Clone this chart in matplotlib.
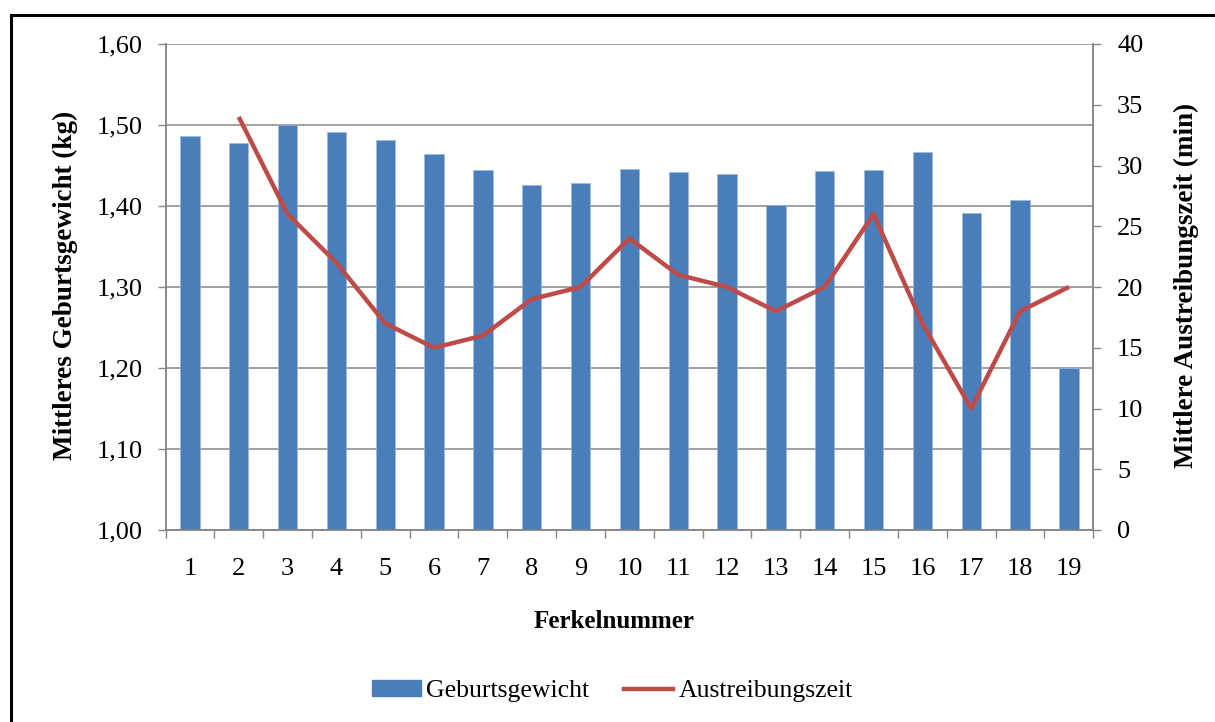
import matplotlib
matplotlib.use("Agg")
import matplotlib.pyplot as plt
import numpy as np
from matplotlib.patches import Rectangle, Patch
from matplotlib.lines import Line2D

plt.rcParams['font.family'] = ['Liberation Serif', 'DejaVu Serif']

ferkel = list(range(1, 20))
geburtsgewicht = [1.486, 1.478, 1.500, 1.491, 1.481, 1.464, 1.445, 1.426, 1.429, 1.446,
                  1.442, 1.440, 1.401, 1.443, 1.445, 1.467, 1.391, 1.407, 1.200]
austreibung_x = list(range(2, 20))
austreibungszeit = [34, 26, 22, 17, 15, 16, 19, 20, 24, 21, 20, 18, 20, 26, 17, 10, 18, 20]
left_ticks = [1.00, 1.10, 1.20, 1.30, 1.40, 1.50, 1.60]
right_ticks = [0, 5, 10, 15, 20, 25, 30, 35, 40]

bar_color = '#4A7EBB'
line_color = '#BE4B48'
grid_color = '#868686'

fig = plt.figure(figsize=(12.15, 7.22), dpi=100)
W, H = 1215, 722
L, R, T, B = 165.5, 1093.3, 44, 530
ax = fig.add_axes([L / W, 1 - B / H, (R - L) / W, (B - T) / H])
ax2 = ax.twinx()

# outer frame
fig.patches.append(Rectangle((11 / W, -0.05), 1.2, 1 - 15 / H + 0.05, transform=fig.transFigure,
                             fill=False, edgecolor='black', linewidth=2.2))

ax.bar(ferkel, geburtsgewicht, width=0.395, color=bar_color, edgecolor='#9DB9DE',
       linewidth=0.5, zorder=3)
ax.set_ylim(1.0, 1.6)
ax.set_xlim(0.5, 19.5)
ax.set_yticks(left_ticks)
ax.set_yticklabels([f"{v:.2f}".replace('.', ',') for v in left_ticks])
ax.yaxis.grid(True, color=grid_color, linewidth=1.1, zorder=0)
ax.set_axisbelow(True)

ax.set_xticks(ferkel)
ax.set_xticklabels([str(i) for i in ferkel])
ax.set_xticks(np.arange(0.5, 20.0, 1.0), minor=True)
ax.tick_params(axis='x', which='major', length=0, pad=20, labelsize=19)
ax.tick_params(axis='x', which='minor', length=5.8, width=1, color=grid_color, direction='out')
ax.tick_params(axis='y', length=5.8, width=1, color=grid_color, pad=10.8, labelsize=19)

for a in (ax, ax2):
    a.spines['top'].set_visible(False)
    for s in ['left', 'bottom', 'right']:
        a.spines[s].set_color(grid_color)
        a.spines[s].set_linewidth(1.1)

ax2.plot(austreibung_x, austreibungszeit, color=line_color, linewidth=3.2, zorder=4,
         solid_joinstyle='round', solid_capstyle='butt')
ax2.set_ylim(0, 40)
ax2.set_yticks(right_ticks)
ax2.tick_params(axis='y', length=5.8, width=1, color=grid_color, pad=11.3, labelsize=19)

fig.text(65 / W, 1 - 285.5 / H, 'Mittleres Geburtsgewicht (kg)', rotation=90, ha='center',
         va='center', fontsize=19.5, fontweight='bold')
fig.text(1186 / W, 1 - 285 / H, 'Mittlere Austreibungszeit (min)', rotation=90, ha='center',
         va='center', fontsize=19.5, fontweight='bold')
fig.text(614 / W, 1 - 621 / H, 'Ferkelnummer', ha='center', va='center',
         fontsize=18, fontweight='bold')

handles = [Patch(facecolor=bar_color, edgecolor=bar_color),
           Line2D([0], [0], color=line_color, linewidth=3.2)]
fig.legend(handles, ['Geburtsgewicht', 'Austreibungszeit'], loc='center',
           bbox_to_anchor=(612.5 / W, 1 - 691 / H), ncol=2, frameon=False, fontsize=18.5,
           handlelength=1.9, handleheight=0.55, handletextpad=0.2, columnspacing=1.36,
           borderpad=0, borderaxespad=0)

fig.savefig('out.png', dpi=100)
